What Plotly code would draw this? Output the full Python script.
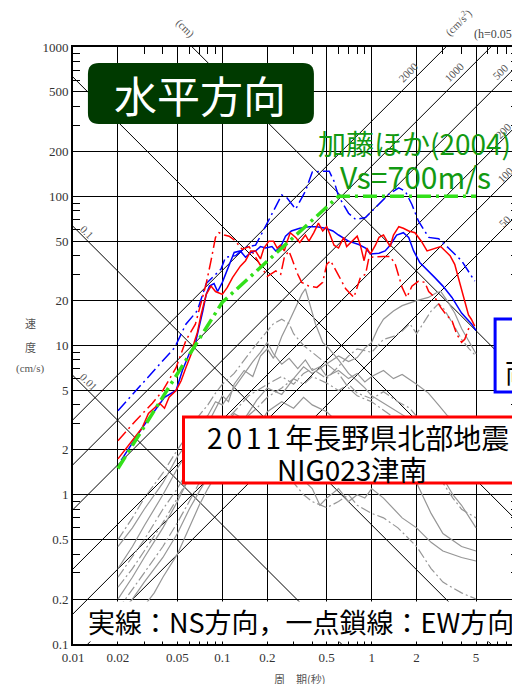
import math
import plotly.graph_objects as go

# ---------------- data ----------------
period_ticks = [0.01, 0.02, 0.05, 0.1, 0.2, 0.5, 1, 2, 5]
period_ticktext = ["0.01", "0.02", "0.05", "0.1", "0.2", "0.5", "1", "2", "5"]
vel_ticks = [0.1, 0.2, 0.5, 1, 2, 5, 10, 20, 50, 100, 200, 500, 1000]
vel_ticktext = ["0.1", "0.2", "0.5", "1", "2", "5", "10", "20", "50", "100", "200", "500", "1000"]

disp_lines_cm = [0.01, 0.1, 1, 10]
acc_lines_gal = [50, 100, 200, 500, 1000, 2000]

# Kato et al. (2004), Vs=700m/s
kato_T = [0.02, 0.1, 0.6, 5.0]
kato_sv = [1.5, 19.5, 100, 100]

# NIG023 (red) solid / dash-dot
red_solid = [(0.02,1.74),(0.024,2.2),(0.029,2.8),(0.032,3.5),(0.038,4.1),(0.041,3.8),(0.044,4.5),(0.049,5.0),
             (0.053,5.8),(0.057,7.1),(0.062,8.8),(0.065,10.6),(0.068,12.2),(0.072,16),(0.078,22),(0.084,25),
             (0.09,23),(0.10,22),(0.108,24.5),(0.117,28.5),(0.126,31.6),(0.132,34),(0.143,37),(0.155,43),
             (0.167,43),(0.18,38),(0.19,45),(0.205,50),(0.22,50),(0.233,45),(0.245,47),(0.26,43),(0.27,49),
             (0.285,57),(0.31,53),(0.33,49),(0.36,55),(0.38,50),(0.41,57),(0.44,66),(0.47,58.5),(0.50,62.5),
             (0.52,57),(0.56,47),(0.60,45),(0.65,53),(0.68,46),(0.74,50),(0.80,54),(0.84,47),(0.89,37),
             (0.93,45),(0.98,41),(1.06,47),(1.12,53),(1.2,55),(1.27,50),(1.33,46),(1.4,55),(1.52,62.5),
             (1.63,61),(1.77,58.5),(1.95,57),(2.15,50),(2.35,43),(2.65,45),(2.9,46),(3.35,40),(3.6,35),
             (3.9,26),(4.2,20),(4.45,16),(4.65,15),(4.9,13.5)]
red_dashdot = [(0.02,2.3),(0.026,3.1),(0.034,4.1),(0.040,5.0),(0.049,7.1),(0.057,10.8),(0.066,13.9),(0.078,26),
               (0.084,37),(0.09,53),(0.095,57),(0.103,55),(0.111,54),(0.12,51),(0.129,47),(0.136,44),(0.151,46),
               (0.162,41),(0.18,35),(0.20,29),(0.228,31.6),(0.246,30),(0.26,39),(0.279,43),(0.29,39),(0.32,30),
               (0.34,26.5),(0.38,25),(0.43,24.5),(0.47,26.5),(0.50,35),(0.53,37),(0.60,29.5),(0.67,24),(0.76,21),
               (0.84,28.5),(0.91,30),(0.96,39),(1.2,39.5),(1.33,39.5),(1.44,35),(1.52,28.5),(1.6,24.5),(1.72,21),
               (1.86,25),(2.06,27),(2.27,26.5),(2.41,23),(2.65,21),(2.9,18),(3.17,16),(3.45,14.7),(3.7,12),
               (4.0,10.5),(4.2,11),(4.45,12.9),(4.65,13.5)]
# blue solid / dash-dot
blue_solid = [(0.021,1.7),(0.029,2.8),(0.041,4.5),(0.049,5.0),(0.054,6.8),(0.060,8.8),(0.065,9.7),(0.070,13.2),
              (0.074,17),(0.078,22),(0.082,25),(0.088,26),(0.093,23),(0.10,26.5),(0.108,32.5),(0.114,37),(0.12,42),
              (0.132,43),(0.143,39),(0.155,42),(0.167,43),(0.18,46),(0.195,45),(0.215,46),(0.228,43),(0.246,46),
              (0.265,54),(0.29,58.5),(0.33,61),(0.38,62.5),(0.43,62.5),(0.49,61),(0.55,58.5),(0.60,55),(0.70,50),
              (0.82,47.5),(0.91,45),(0.98,41),(1.12,41.5),(1.23,43),(1.33,47),(1.47,55),(1.63,57),(1.77,53),
              (1.91,43),(2.1,36),(2.41,31.6),(2.65,28.5),(3.0,25),(3.45,21),(4.0,16.5),(4.65,14),(5.0,12.6)]
blue_dashdot = [(0.02,3.66),(0.029,5.5),(0.038,7.5),(0.048,9.7),(0.057,13.9),(0.068,17.1),(0.078,26),(0.098,32.5),
                (0.105,39),(0.123,40),(0.143,45.5),(0.167,47),(0.185,57),(0.22,79.6),(0.25,102),(0.27,98),(0.31,82),
                (0.36,108),(0.40,145),(0.47,147),(0.52,147),(0.56,126),(0.60,100),(0.70,77),(0.78,70),(0.91,72),
                (1.12,88),(1.30,103),(1.52,114),(1.68,108),(1.86,88),(2.06,68),(2.41,53),(2.81,52),(3.27,45),
                (4.0,37),(4.9,27)]

# other records (gray)
gray_solid_1 = [(0.02,0.32),(0.025,0.45),(0.03,0.62),(0.035,0.8),(0.04,1.0),(0.05,1.5),(0.06,2.0),(0.07,2.6),(0.08,3.0),
                (0.09,3.8),(0.1,4.6),(0.11,4.2),(0.12,5.5),(0.14,6.8),(0.16,6.2),(0.18,8.5),(0.2,9.5),(0.22,8.2),
                (0.25,11.5),(0.28,14.5),(0.31,18),(0.34,22),(0.36,24),(0.38,20),(0.42,14),(0.47,10.5),(0.52,9.5),
                (0.6,8),(0.7,6.5),(0.8,5.8),(0.9,5.2),(1.0,4.6),(1.2,4.1),(1.5,3.6),(1.8,3.2),(2.2,2.4),(2.6,1.7),
                (3.0,1.3),(3.5,1.0),(4,0.85),(5,0.6)]
gray_solid_2 = [(0.02,0.2),(0.025,0.28),(0.03,0.38),(0.04,0.6),(0.05,0.9),(0.06,1.3),(0.07,1.7),(0.08,2.1),(0.1,2.8),
                (0.12,3.5),(0.14,3.2),(0.17,4.3),(0.2,5.2),(0.25,4.7),(0.3,6.0),(0.35,7.2),(0.4,6.5),(0.5,7.5),
                (0.6,8.5),(0.7,7.8),(0.8,8.3),(0.9,9.6),(1.0,10.5),(1.1,13),(1.2,15),(1.4,17),(1.6,18.5),(2.0,20),
                (2.4,21),(2.7,22.5),(2.9,23),(3.2,20),(3.6,16.5),(4.0,13),(4.5,10.5),(5,8.8)]
gray_solid_3 = [(0.02,0.45),(0.025,0.6),(0.03,0.8),(0.04,1.2),(0.05,1.8),(0.06,2.3),(0.07,3.0),(0.08,3.4),(0.09,4.2),
                (0.1,4.0),(0.12,5.2),(0.14,6.5),(0.16,7.8),(0.18,9),(0.2,10.5),(0.22,8.8),(0.25,7.5),(0.28,8.2),
                (0.32,7),(0.36,8),(0.4,6.8),(0.45,7.2),(0.5,6.2),(0.6,6.8),(0.7,6.0),(0.8,6.5),(0.9,5.7),(1.0,6.2),
                (1.2,6.8),(1.4,6.0),(1.6,6.4),(2.0,5.5),(2.4,4.8),(2.8,4.0),(3.2,3.4),(3.8,3.0),(4.4,2.7),(5,2.5)]
gray_solid_4 = [(0.02,0.15),(0.025,0.2),(0.03,0.26),(0.04,0.38),(0.05,0.55),(0.06,0.8),(0.07,1.05),(0.08,1.3),
                (0.09,1.6),(0.1,1.9),(0.12,2.3),(0.14,2.1),(0.16,2.6),(0.18,2.4),(0.2,2.8),(0.25,2.2),(0.3,1.6),
                (0.35,1.25),(0.4,1.1),(0.45,0.85),(0.5,0.95),(0.6,1.1),(0.7,0.9),(0.8,1.0),(0.9,0.95),(1.0,1.1),
                (1.2,0.95),(1.4,0.8),(1.6,0.7),(2.0,0.6),(2.5,0.48),(3.0,0.42),(4.0,0.38),(5,0.36)]
gray_solid_5 = [(0.02,0.11),(0.025,0.14),(0.03,0.18),(0.035,0.22),(0.04,0.28),(0.05,0.4),(0.06,0.6),(0.07,0.85),
                (0.08,1.1),(0.1,1.6),(0.12,2.0),(0.14,2.6),(0.16,3.2),(0.18,3.0),(0.2,3.6),(0.25,4.2),(0.3,3.8),
                (0.35,4.5),(0.4,4.0),(0.5,3.6),(0.6,3.0),(0.7,2.6),(0.8,2.2),(1.0,1.9),(1.2,1.7),(1.5,1.5),(2.0,1.2),
                (2.5,0.75),(3.0,0.55),(4.0,0.45),(5,0.42)]
gray_dashdot_1 = [(0.02,0.5),(0.025,0.7),(0.03,0.95),(0.04,1.4),(0.05,2.0),(0.06,2.6),(0.07,3.4),(0.08,4.0),(0.09,4.8),
                  (0.1,5.5),(0.12,6.5),(0.14,8),(0.16,9.5),(0.18,11),(0.2,12.5),(0.22,14),(0.25,15),(0.28,14),(0.3,12),
                  (0.35,10),(0.4,9),(0.5,7.5),(0.6,6.5),(0.7,5.2),(0.8,4.6),(1.0,4.2),(1.3,3.5),(1.6,3.0),(2.0,2.4),
                  (2.5,1.6),(3,1.2),(3.5,0.95),(4,0.8),(5,0.7)]
gray_dashdot_2 = [(0.02,0.28),(0.03,0.5),(0.04,0.8),(0.05,1.1),(0.06,1.5),(0.07,1.9),(0.08,2.3),(0.1,3.0),(0.12,3.6),
                  (0.15,4.6),(0.2,5.5),(0.25,6.2),(0.3,5.5),(0.35,6.5),(0.4,7.0),(0.5,6.0),(0.6,7.2),(0.7,8.5),(0.8,9.5),
                  (1.0,9.0),(1.2,11),(1.4,11.5),(1.6,12.5),(1.8,14),(2.0,12),(2.2,14),(2.5,17),(2.8,19),(3.0,18),
                  (3.5,14),(4.0,11),(4.5,9.5),(5,8.5)]
gray_dashdot_3 = [(0.02,0.24),(0.025,0.32),(0.03,0.42),(0.04,0.65),(0.05,0.95),(0.06,1.3),(0.07,1.7),(0.08,2.0),(0.1,2.5),
                  (0.12,2.2),(0.14,2.8),(0.16,2.4),(0.2,2.0),(0.25,1.5),(0.3,1.2),(0.35,1.0),(0.4,0.9),(0.5,0.82),
                  (0.6,0.9),(0.7,1.0),(0.8,0.85),(1.0,0.75),(1.2,0.7),(1.5,0.6),(2.0,0.45),(2.5,0.32),(3.0,0.26),
                  (4,0.22),(5,0.2)]
gray_dashdot_4 = [(0.02,0.17),(0.025,0.23),(0.03,0.3),(0.04,0.45),(0.05,0.65),(0.06,0.9),(0.07,1.2),(0.08,1.5),(0.1,2.0),
                  (0.12,2.6),(0.14,3.2),(0.17,3.8),(0.2,4.5),(0.25,5.2),(0.3,6.0),(0.35,5.5),(0.4,6.2),(0.5,5.6),
                  (0.6,5.0),(0.7,5.5),(0.8,4.8),(1.0,4.4),(1.2,4.9),(1.5,4.2),(1.8,3.8),(2.2,3.0),(2.6,2.4),(3.0,2.0),
                  (3.5,1.7),(4,1.5),(5,1.3)]

# ---------------- layout geometry ----------------
OFF = 8                      # page body margin
W, H = 520 - OFF, 684 - OFF
ML, MT = 73 - OFF, 47 - OFF
PH = 597
MB = H - MT - PH
MR = 0
PW = W - ML - MR
DEC_X = 150.0


def fx(p):   # page pixel -> paper x
    return (p - OFF - ML) / PW


def fy(p):   # page pixel -> paper y
    return (H - MB - (p - OFF)) / PH


def unzip(pairs):
    return [a for a, _ in pairs], [b for _, b in pairs]


fig = go.Figure()

# tripartite diagonal lines
T_ends = [0.003, 30.0]
for sd in disp_lines_cm:
    fig.add_trace(go.Scatter(x=T_ends, y=[2 * math.pi * sd / t for t in T_ends], mode="lines",
                             line=dict(color="black", width=1), hoverinfo="skip"))
for sa in acc_lines_gal:
    fig.add_trace(go.Scatter(x=T_ends, y=[sa * t / (2 * math.pi) for t in T_ends], mode="lines",
                             line=dict(color="black", width=1), hoverinfo="skip"))

GRAY = "rgb(150,150,150)"
DD = "10px,3px,2px,3px"
for g in [gray_solid_1, gray_solid_2, gray_solid_3, gray_solid_4, gray_solid_5]:
    x, y = unzip(g)
    fig.add_trace(go.Scatter(x=x, y=y, mode="lines", line=dict(color=GRAY, width=1.2)))
for g in [gray_dashdot_1, gray_dashdot_2, gray_dashdot_3, gray_dashdot_4]:
    x, y = unzip(g)
    fig.add_trace(go.Scatter(x=x, y=y, mode="lines", line=dict(color=GRAY, width=1.2, dash=DD)))

for data, col, dash in [(blue_dashdot, "#0000ff", "12px,4px,2px,4px"),
                        (red_dashdot, "#ff0000", "12px,4px,2px,4px"),
                        (blue_solid, "#0000ff", "solid"),
                        (red_solid, "#ff0000", "solid")]:
    x, y = unzip(data)
    fig.add_trace(go.Scatter(x=x, y=y, mode="lines", line=dict(color=col, width=1.5, dash=dash)))

fig.add_trace(go.Scatter(x=kato_T, y=kato_sv, mode="lines",
                         line=dict(color="#33e01a", width=3.5, dash="14px,5px,3px,5px")))

minor_x = [m * d for d in [0.01, 0.1, 1] for m in [3, 4, 6, 7, 8, 9]]
minor_y = [m * d for d in [0.1, 1, 10, 100] for m in [3, 4, 6, 7, 8, 9]]

TICKFONT = dict(family="Liberation Serif, DejaVu Serif, serif", size=13, color="#333333")
fig.update_xaxes(type="log", range=[-2, -2 + PW / DEC_X], tickmode="array", tickvals=period_ticks,
                 ticktext=period_ticktext, showgrid=True, gridcolor="black", gridwidth=1.3,
                 showline=True, linecolor="black", linewidth=2, mirror="ticks",
                 ticks="inside", ticklen=10, tickcolor="black", tickwidth=1.3,
                 tickfont=TICKFONT, zeroline=False,
                 minor=dict(tickmode="array", tickvals=minor_x, ticks="inside", ticklen=7,
                            tickcolor="black", tickwidth=1.2, showgrid=False))
fig.update_yaxes(type="log", range=[-1, 3], tickmode="array", tickvals=vel_ticks,
                 ticktext=vel_ticktext, showgrid=True, gridcolor="black", gridwidth=1.3,
                 showline=True, linecolor="black", linewidth=2, mirror="ticks",
                 ticks="inside", ticklen=10, tickcolor="black", tickwidth=1.3,
                 tickfont=TICKFONT, zeroline=False,
                 minor=dict(tickmode="array", tickvals=minor_y, ticks="inside", ticklen=7,
                            tickcolor="black", tickwidth=1.2, showgrid=False))

# ---------------- boxes ----------------
shapes = []
x0, x1, y0, y1 = fx(88), fx(315), fy(124), fy(63)
rx, ry = 11 / PW, 11 / PH
path = (f"M {x0+rx},{y0} L {x1-rx},{y0} Q {x1},{y0} {x1},{y0+ry} L {x1},{y1-ry} Q {x1},{y1} {x1-rx},{y1} "
        f"L {x0+rx},{y1} Q {x0},{y1} {x0},{y1-ry} L {x0},{y0+ry} Q {x0},{y0} {x0+rx},{y0} Z")
shapes.append(dict(type="path", xref="paper", yref="paper", path=path, fillcolor="#003a00",
                   line=dict(width=0), layer="above"))
shapes.append(dict(type="rect", xref="paper", yref="paper", x0=fx(184), x1=fx(600), y0=fy(483), y1=fy(417),
                   fillcolor="white", line=dict(color="#ff0000", width=3), layer="above"))
shapes.append(dict(type="rect", xref="paper", yref="paper", x0=fx(497), x1=fx(600), y0=fy(392), y1=fy(319),
                   fillcolor="white", line=dict(color="#0000ff", width=3), layer="above"))

JP = "Noto Sans CJK JP, sans-serif"
SERIF = "Liberation Serif, DejaVu Serif, serif"
ann = []


def A(text, px, py, size, color="black", family=JP, angle=0, xanchor="center", **kw):
    ann.append(dict(text=text, x=fx(px), y=fy(py), xref="paper", yref="paper", showarrow=False,
                    xanchor=xanchor, yanchor="middle", textangle=angle,
                    font=dict(size=size, color=color, family=family), **kw))


A("水平方向", 201, 94, 43, color="white")
A("加藤ほか(2004)", 416, 143, 28, color="#129a12")
A("Vs=700m/s", 417, 176, 30, color="#129a12")
A("<span style='letter-spacing:4px'>2011</span>年長野県北部地震", 359, 437, 28)
A("NIG023津南", 353, 469, 28)
A("両", 505, 372, 26, xanchor="left")
A("実線：NS方向，一点鎖線：EW方向", 302, 621, 27, bgcolor="white", borderpad=0)

A("(cm)", 186, 28, 11, color="#555555", family=SERIF, angle=45)
A("(cm/s<sup>2</sup>)", 460, 22, 11, color="#555555", family=SERIF, angle=-45)
A("(h=0.05)", 474, 34, 12, color="#444444", family=SERIF, xanchor="left")
for txt, px, py in [("0.1", 87, 232), ("0.01", 89, 382)]:
    A(txt, px, py, 11, color="#555555", family=SERIF, angle=45)
for txt, px, py in [("2000", 410, 72), ("1000", 456, 72), ("500", 502, 72),
                    ("200", 505, 131), ("100", 507, 175), ("50", 507, 221)]:
    A(txt, px, py, 11, color="#555555", family=SERIF, angle=-45)

A("速", 30, 323, 11, color="#555555")
A("度", 30, 347, 11, color="#555555")
A("(cm/s)", 30, 368, 11, color="#555555", family=SERIF)
A("周　期(秒)", 301, 679, 11, color="#555555")

fig.update_layout(width=W, height=H, margin=dict(l=ML, r=MR, t=MT, b=MB, pad=0),
                  paper_bgcolor="white", plot_bgcolor="white", showlegend=False,
                  hovermode=False, shapes=shapes, annotations=ann)

fig.write_html("out.html")
